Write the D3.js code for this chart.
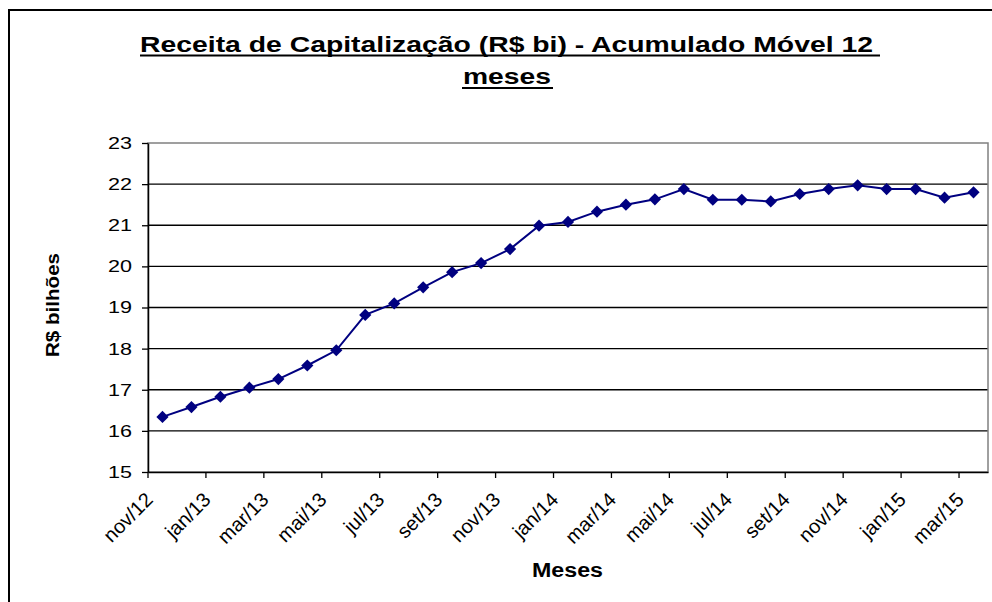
<!DOCTYPE html>
<html>
<head>
<meta charset="utf-8">
<script src="https://cdn.jsdelivr.net/npm/d3@7"></script>
<style>
  body { margin: 0; background: #fff; }
  text { font-family: "Liberation Sans", Arial, sans-serif; }
</style>
</head>
<body>
<div id="chart"></div>
<script>
const months = [
  "nov/12", "dez/12", "jan/13", "fev/13", "mar/13", "abr/13", "mai/13", "jun/13",
  "jul/13", "ago/13", "set/13", "out/13", "nov/13", "dez/13", "jan/14", "fev/14",
  "mar/14", "abr/14", "mai/14", "jun/14", "jul/14", "ago/14", "set/14", "out/14",
  "nov/14", "dez/14", "jan/15", "fev/15", "mar/15"
];
const receita = [
  16.34, 16.58, 16.83, 17.05, 17.26, 17.59, 17.96, 18.82,
  19.10, 19.49, 19.86, 20.08, 20.42, 20.99, 21.08, 21.33,
  21.50, 21.63, 21.88, 21.62, 21.62, 21.58, 21.76, 21.88,
  21.97, 21.88, 21.88, 21.67, 21.80
];
const yTicks = [15, 16, 17, 18, 19, 20, 21, 22, 23];
const labelMonths = months.filter((d, i) => i % 2 === 0);

const W = 992, H = 602;
const plot = { left: 148, right: 988, top: 143, bottom: 472 };

const svg = d3.select("#chart").append("svg")
  .attr("width", W).attr("height", H);

// outer chart border
svg.append("rect")
  .attr("x", 9).attr("y", 10)
  .attr("width", 1000).attr("height", 620)
  .attr("fill", "none").attr("stroke", "#000").attr("stroke-width", 2);

const x = d3.scaleBand().domain(months).range([plot.left, plot.right]).padding(0);
const y = d3.scaleLinear().domain([15, 23]).range([plot.bottom, plot.top]);
const bw = x.bandwidth();

// gridlines
svg.append("g")
  .selectAll("line")
  .data(yTicks.filter(d => d > 15 && d < 23))
  .enter().append("line")
  .attr("x1", plot.left).attr("x2", plot.right)
  .attr("y1", d => y(d)).attr("y2", d => y(d))
  .attr("stroke", "#000").attr("stroke-width", 1.3);

// plot area border (grey)
svg.append("rect")
  .attr("x", plot.left).attr("y", plot.top)
  .attr("width", plot.right - plot.left).attr("height", plot.bottom - plot.top)
  .attr("fill", "none").attr("stroke", "#808080").attr("stroke-width", 1.5);

// y axis
const yAxis = svg.append("g")
  .attr("transform", `translate(${plot.left},0)`)
  .call(d3.axisLeft(y).tickValues(yTicks).tickSize(6).tickPadding(10).tickSizeOuter(0));
yAxis.select(".domain").attr("stroke", "#000").attr("stroke-width", 1.5);
yAxis.selectAll(".tick line").attr("stroke", "#000").attr("stroke-width", 1.3);
yAxis.selectAll("text")
  .attr("textLength", 24).attr("lengthAdjust", "spacingAndGlyphs")
  .style("font-size", "17px")
  .style("font-family", "'Liberation Sans', Arial, sans-serif")
  .attr("fill", "#000");

// x axis: ticks between categories, every 2 months
const xAxis = svg.append("g")
  .attr("transform", `translate(0,${plot.bottom})`)
  .call(d3.axisBottom(x).tickValues(labelMonths).tickSize(6).tickSizeOuter(0).tickFormat(""));
xAxis.select(".domain").attr("stroke", "#000").attr("stroke-width", 1.5);
xAxis.selectAll(".tick line")
  .attr("transform", `translate(${-bw / 2},0)`)
  .attr("stroke", "#000").attr("stroke-width", 1.3);

svg.append("g")
  .selectAll("text")
  .data(labelMonths)
  .enter().append("text")
  .attr("transform", d => `translate(${x(d) + 6},${plot.bottom + 29}) rotate(-45)`)
  .attr("text-anchor", "end")
  .style("font-size", "20px")
  .text(d => d);

// series
const line = d3.line()
  .x((d, i) => x(months[i]) + bw / 2)
  .y(d => y(d));

svg.append("path")
  .datum(receita)
  .attr("d", line)
  .attr("fill", "none")
  .attr("stroke", "#000080")
  .attr("stroke-width", 2);

svg.append("g")
  .selectAll("path")
  .data(receita)
  .enter().append("path")
  .attr("transform", (d, i) => `translate(${x(months[i]) + bw / 2},${y(d)})`)
  .attr("d", d3.symbol().type(d3.symbolDiamond2).size(95))
  .attr("fill", "#000080");

// titles
svg.append("text")
  .attr("x", 140).attr("y", 52)
  .attr("textLength", 733).attr("lengthAdjust", "spacingAndGlyphs")
  .style("font-size", "22px").style("font-weight", "bold")
  .text("Receita de Capitalização (R$ bi) - Acumulado Móvel 12");
svg.append("line")
  .attr("x1", 140).attr("x2", 880).attr("y1", 55.5).attr("y2", 55.5)
  .attr("stroke", "#000").attr("stroke-width", 2);

svg.append("text")
  .attr("x", 463).attr("y", 84)
  .attr("textLength", 88).attr("lengthAdjust", "spacingAndGlyphs")
  .style("font-size", "22px").style("font-weight", "bold")
  .text("meses");
svg.append("line")
  .attr("x1", 462).attr("x2", 553).attr("y1", 88).attr("y2", 88)
  .attr("stroke", "#000").attr("stroke-width", 2);

svg.append("text")
  .attr("transform", "translate(59,305) rotate(-90)")
  .attr("text-anchor", "middle")
  .attr("textLength", 104).attr("lengthAdjust", "spacingAndGlyphs")
  .style("font-size", "18px").style("font-weight", "bold")
  .text("R$ bilhões");

svg.append("text")
  .attr("x", 532).attr("y", 577)
  .attr("textLength", 71).attr("lengthAdjust", "spacingAndGlyphs")
  .style("font-size", "20px").style("font-weight", "bold")
  .text("Meses");
</script>
</body>
</html>
